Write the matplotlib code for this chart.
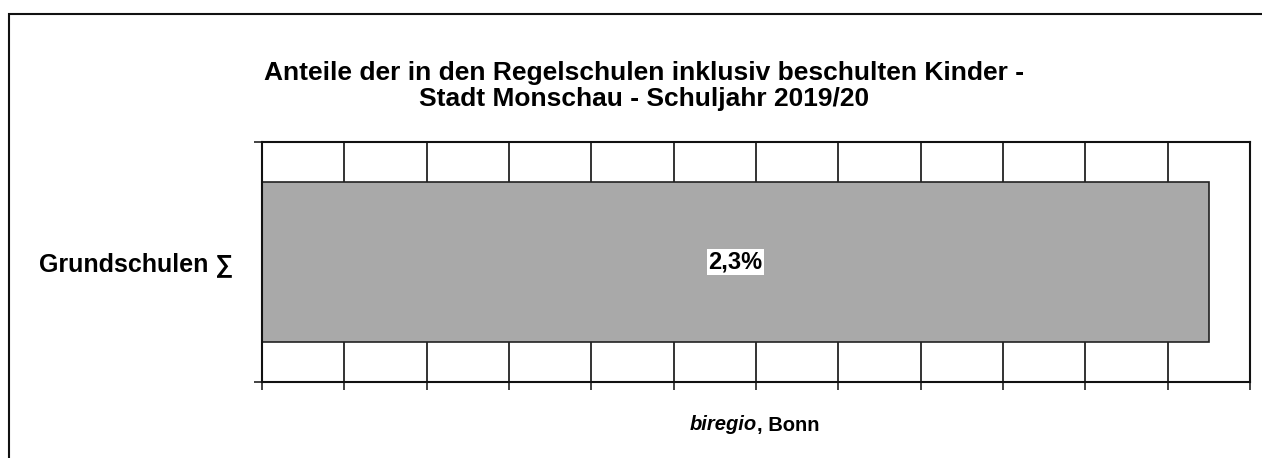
import numpy as np
import matplotlib
matplotlib.use("Agg")
import matplotlib.pyplot as plt
from matplotlib.patches import Rectangle

plt.rcParams['font.family'] = ['Liberation Sans', 'DejaVu Sans']

# data
categories = ['Grundschulen ∑']
values = [2.3]
value_labels = ['2,3%']
x_max = 2.4
x_step = 0.2

fig = plt.figure(figsize=(12.62, 4.58), dpi=100)
ax = fig.add_axes([262 / 1262, 1 - 382 / 458, 988 / 1262, 240 / 458])

y = np.arange(len(categories))
ax.barh(y, values, height=0.667, color='#a9a9a9', edgecolor='#222222', linewidth=1.2, zorder=3)

for yi, v, lab in zip(y, values, value_labels):
    ax.text(v / 2, yi, lab, ha='center', va='center', fontsize=17, fontweight='bold',
            bbox=dict(facecolor='white', edgecolor='none', pad=1.0), zorder=4)

ax.set_xlim(0, x_max)
ax.set_ylim(-0.5, len(categories) - 0.5)

# x axis: gridlines every 0.2, no labels
ax.set_xticks(np.arange(0, x_max + 1e-9, x_step))
ax.tick_params(axis='x', direction='out', length=6, width=1.2, labelbottom=False, color='#222222')
ax.grid(axis='x', color='#111111', linewidth=1.2, zorder=1)

# y axis: ticks at category boundaries, label in the middle
ax.set_yticks(y)
ax.set_yticklabels(categories, fontsize=18, fontweight='bold')
ax.set_yticks([-0.5, len(categories) - 0.5], minor=True)
ax.tick_params(axis='y', which='major', length=0, pad=21)
ax.tick_params(axis='y', which='minor', direction='out', length=6, width=1.2, color='#222222')

for s in ax.spines.values():
    s.set_linewidth(1.5)
    s.set_color('#111111')
    s.set_zorder(5)

fig.text(644 / 1262, 1 - 86 / 458,
         'Anteile der in den Regelschulen inklusiv beschulten Kinder -\nStadt Monschau - Schuljahr 2019/20',
         ha='center', va='center', fontsize=19, fontweight='bold', linespacing=1.15)

fig.text(757 / 1262, 1 - 425 / 458, 'biregio', ha='right', va='center', fontsize=14.5,
         fontweight='bold', fontstyle='italic')
fig.text(757 / 1262, 1 - 425 / 458, ', Bonn', ha='left', va='center', fontsize=14.5, fontweight='bold')

# outer frame
fig.patches.append(Rectangle((9 / 1262, -0.1), 1.2, 1 - 14 / 458 + 0.1, transform=fig.transFigure,
                             fill=False, edgecolor='#111111', linewidth=1.5))

fig.savefig('out.png', dpi=100)
